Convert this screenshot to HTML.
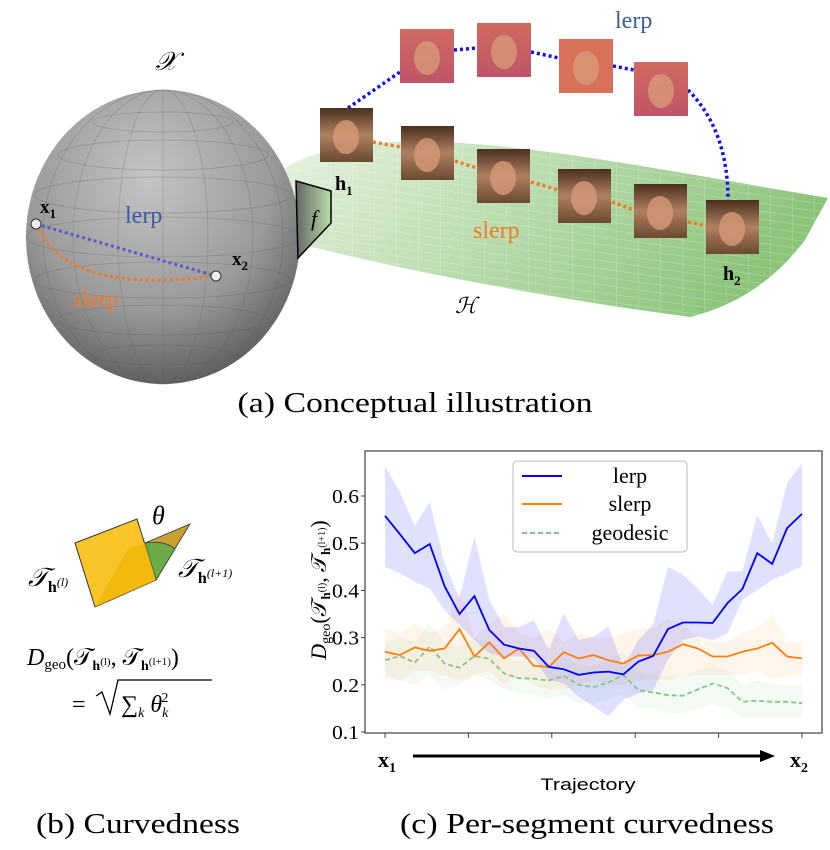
<!DOCTYPE html>
<html><head><meta charset="utf-8"><style>
html,body{margin:0;padding:0;background:#fff;width:830px;height:850px;overflow:hidden}
svg{display:block}
.serif{font-family:"Liberation Serif",serif}
</style></head><body>
<svg id="fig" width="830" height="850" viewBox="0 0 830 850" xmlns="http://www.w3.org/2000/svg">
<defs>
<radialGradient id="sph" cx="0.45" cy="0.3" r="0.75">
<stop offset="0" stop-color="#c4c4c4"/><stop offset="0.6" stop-color="#9a9a9a"/><stop offset="1" stop-color="#555"/>
</radialGradient>
<linearGradient id="surf" x1="0" y1="0" x2="1" y2="0.3">
<stop offset="0" stop-color="#e6f2e0"/><stop offset="1" stop-color="#8cc47a"/>
</linearGradient>
<linearGradient id="fgrad" x1="0" x2="1"><stop offset="0" stop-color="#666"/><stop offset="1" stop-color="#b8dca8"/></linearGradient>
<pattern id="grid" width="22" height="8" patternUnits="userSpaceOnUse" patternTransform="skewY(8)"><path d="M0 0H22M0 0V8" stroke="#fff" stroke-opacity="0.35" fill="none"/></pattern>
<linearGradient id="faceA" x1="0" y1="0" x2="0" y2="1"><stop offset="0" stop-color="#d06a60"/><stop offset="1" stop-color="#c05468"/></linearGradient>
<linearGradient id="faceB" x1="0" y1="0" x2="0" y2="1"><stop offset="0" stop-color="#4a3020"/><stop offset="0.5" stop-color="#b08060"/><stop offset="1" stop-color="#6a4a30"/></linearGradient>
</defs>

<g>
<path d="M285,168 C380,110 600,160 828,198 L805,240 Q760,300 690,317 C560,300 400,270 305,245 Z" fill="url(#surf)"/>
<path d="M285,168 C380,110 600,160 828,198 L805,240 Q760,300 690,317 C560,300 400,270 305,245 Z" fill="url(#grid)"/>
<ellipse cx="163" cy="237" rx="137" ry="147" fill="url(#sph)"/>
<g stroke="#555" stroke-opacity="0.3" fill="none" stroke-width="0.7">
<ellipse cx="163" cy="237" rx="137" ry="20"/><ellipse cx="163" cy="195" rx="128" ry="18"/><ellipse cx="163" cy="155" rx="105" ry="15"/><ellipse cx="163" cy="122" rx="70" ry="10"/>
<ellipse cx="163" cy="280" rx="128" ry="18"/><ellipse cx="163" cy="320" rx="105" ry="15"/><ellipse cx="163" cy="355" rx="70" ry="10"/>
<ellipse cx="163" cy="237" rx="45" ry="147"/><ellipse cx="163" cy="237" rx="90" ry="147"/><ellipse cx="163" cy="237" rx="120" ry="147"/><line x1="163" y1="90" x2="163" y2="384"/>
</g>
<path d="M296,181 L331,191 L331,223 L298,258 Z" fill="url(#fgrad)" stroke="#000" stroke-width="1.5"/>
<text x="311" y="226" class="serif" font-style="italic" font-size="22">f</text>
<line x1="36" y1="224" x2="216" y2="276" stroke="#5a5ad0" stroke-width="3" stroke-dasharray="3,3"/>
<path d="M38,228 Q70,295 216,276" fill="none" stroke="#f07a2a" stroke-width="3" stroke-dasharray="3,3"/>
<circle cx="36" cy="224" r="5" fill="#eee" stroke="#333"/><circle cx="216" cy="276" r="5" fill="#eee" stroke="#333"/>
<text x="40" y="213" class="serif" font-weight="bold" font-size="19">x<tspan font-size="13" dy="5">1</tspan></text>
<text x="232" y="265" class="serif" font-weight="bold" font-size="19">x<tspan font-size="13" dy="5">2</tspan></text>
<text x="125" y="223" class="serif" font-size="24" fill="#3c5aa8">lerp</text>
<text x="72" y="307" class="serif" font-size="24" fill="#f07a2a">slerp</text>
<text x="155" y="70" class="serif" font-style="italic" font-size="26">𝒳</text>
<text x="455" y="313" class="serif" font-style="italic" font-size="22">ℋ</text>
<path d="M348,108 L400,72 M454,50 L477,48 M531,52 L559,58 M613,66 L634,70 M688,90 Q728,130 728,200" fill="none" stroke="#1010f0" stroke-width="3.5" stroke-dasharray="3,3"/>
<path d="M373,142 L401,147 M455,161 L477,168 M531,182 L558,190 M612,202 L634,210 M688,222 L706,226" fill="none" stroke="#f07a2a" stroke-width="3.5" stroke-dasharray="3,3"/>
<g>
<rect x="400" y="29" width="54" height="54" fill="url(#faceA)"/><rect x="477" y="23" width="54" height="54" fill="url(#faceA)"/>
<rect x="559" y="39" width="54" height="54" fill="#d8705a"/><rect x="634" y="62" width="54" height="54" fill="url(#faceA)"/>
<rect x="320" y="108" width="53" height="54" fill="url(#faceB)"/><rect x="401" y="126" width="53" height="54" fill="url(#faceB)"/>
<rect x="477" y="149" width="53" height="54" fill="url(#faceB)"/><rect x="558" y="169" width="53" height="54" fill="url(#faceB)"/>
<rect x="634" y="184" width="53" height="54" fill="url(#faceB)"/><rect x="706" y="200" width="53" height="54" fill="url(#faceB)"/>
<g fill="#d89a78" opacity="0.8"><ellipse cx="427" cy="58" rx="13" ry="17"/><ellipse cx="504" cy="52" rx="13" ry="17"/><ellipse cx="586" cy="68" rx="13" ry="17"/><ellipse cx="661" cy="91" rx="13" ry="17"/>
<ellipse cx="346" cy="137" rx="13" ry="17"/><ellipse cx="427" cy="155" rx="13" ry="17"/><ellipse cx="503" cy="178" rx="13" ry="17"/><ellipse cx="584" cy="198" rx="13" ry="17"/><ellipse cx="660" cy="213" rx="13" ry="17"/><ellipse cx="732" cy="229" rx="13" ry="17"/></g>
</g>
<text x="615" y="28" class="serif" font-size="24" fill="#3c5aa8">lerp</text>
<text x="473" y="238" class="serif" font-size="24" fill="#f07a2a">slerp</text>
<text x="335" y="190" class="serif" font-weight="bold" font-size="20">h<tspan font-size="13" dy="5">1</tspan></text>
<text x="723" y="280" class="serif" font-weight="bold" font-size="20">h<tspan font-size="13" dy="5">2</tspan></text>
<text x="415" y="412" class="serif" font-size="28" text-anchor="middle" textLength="355" lengthAdjust="spacingAndGlyphs">(a) Conceptual illustration</text>
</g>

<g>
<path d="M145,543 L190,524 L156,580 Z" fill="#c8a030" stroke="#333" stroke-width="0.8"/>
<path d="M145,543 Q165,540 175,549 L156,580 Z" fill="#6aaa48" stroke="#333" stroke-width="0.8"/>
<path d="M75,543 L137,519 L156,580 L95,607 Z" fill="#f8c428" stroke="#333" stroke-width="1"/>
<path d="M95,607 L128,549 L145,543 L156,580 Z" fill="#f0b808" opacity="0.8"/>
<text x="152" y="524" class="serif" font-style="italic" font-size="26">θ</text>
<text x="28" y="586" class="serif" font-style="italic" font-size="26">𝒯<tspan font-style="normal" font-weight="bold" font-size="16" dy="6">h</tspan><tspan font-size="12" dy="-6">(l)</tspan></text>
<text x="178" y="577" class="serif" font-style="italic" font-size="26">𝒯<tspan font-style="normal" font-weight="bold" font-size="16" dy="6">h</tspan><tspan font-size="12" dy="-6">(l+1)</tspan></text>
<text x="27" y="665" class="serif" font-size="24"><tspan font-style="italic">D</tspan><tspan font-size="15" dy="4">geo</tspan><tspan dy="-4">(𝒯</tspan><tspan font-weight="bold" font-size="14" dy="5">h</tspan><tspan font-size="11" dy="-5">(l)</tspan><tspan>, 𝒯</tspan><tspan font-weight="bold" font-size="14" dy="5">h</tspan><tspan font-size="11" dy="-5">(l+1)</tspan><tspan>)</tspan></text>
<text x="72" y="712" class="serif" font-size="24">=</text>
<path d="M96,696 L102,692 L110,714 L118,680 L212,680" fill="none" stroke="#000" stroke-width="1.3"/>
<text x="121" y="712" class="serif" font-size="24">∑<tspan font-size="14" font-style="italic" dy="5">k</tspan><tspan font-style="italic" dy="-5"> θ</tspan><tspan font-size="14" font-style="italic" dy="5">k</tspan><tspan font-size="14" dx="-7" dy="-15">2</tspan></text>
<text x="138" y="833" class="serif" font-size="29" text-anchor="middle" textLength="204" lengthAdjust="spacingAndGlyphs">(b) Curvedness</text>
</g>

<g id="chart"></g>
<text x="587" y="833" class="serif" font-size="29" text-anchor="middle" textLength="374" lengthAdjust="spacingAndGlyphs">(c) Per-segment curvedness</text>
</svg>
<script>
const yTicks = [0.1, 0.2, 0.3, 0.4, 0.5, 0.6];
const xTickCount = 6;
const lerpMean = [0.558,0.519,0.479,0.498,0.409,0.350,0.388,0.316,0.285,0.277,0.272,0.238,0.233,0.221,0.226,0.228,0.222,0.249,0.261,0.318,0.332,0.332,0.331,0.373,0.403,0.479,0.456,0.532,0.562];
const lerpUpper = [0.663,0.609,0.536,0.588,0.457,0.383,0.514,0.380,0.323,0.322,0.337,0.274,0.351,0.295,0.302,0.323,0.238,0.295,0.327,0.450,0.433,0.404,0.369,0.440,0.440,0.560,0.500,0.627,0.669];
const lerpLower = [0.450,0.436,0.418,0.404,0.358,0.327,0.295,0.267,0.260,0.260,0.256,0.210,0.203,0.175,0.154,0.133,0.168,0.182,0.189,0.253,0.295,0.302,0.295,0.309,0.380,0.401,0.422,0.436,0.452];
const slerpMean = [0.270,0.263,0.279,0.272,0.277,0.318,0.260,0.290,0.256,0.277,0.240,0.238,0.269,0.256,0.263,0.252,0.245,0.262,0.263,0.270,0.286,0.277,0.260,0.260,0.270,0.277,0.289,0.260,0.256];
const slerpUpper = [0.32,0.31,0.33,0.31,0.32,0.40,0.30,0.33,0.35,0.31,0.30,0.32,0.29,0.31,0.30,0.30,0.31,0.32,0.32,0.34,0.33,0.30,0.29,0.29,0.31,0.32,0.35,0.29,0.29];
const slerpLower = [0.22,0.21,0.23,0.23,0.22,0.21,0.22,0.23,0.20,0.22,0.20,0.19,0.19,0.20,0.21,0.20,0.20,0.21,0.21,0.21,0.22,0.22,0.22,0.22,0.22,0.23,0.21,0.22,0.22];
const geoMean = [0.252,0.261,0.247,0.281,0.245,0.236,0.261,0.255,0.224,0.214,0.213,0.209,0.219,0.200,0.195,0.205,0.221,0.189,0.184,0.178,0.177,0.190,0.203,0.193,0.164,0.166,0.164,0.164,0.161];
const geoUpper = [0.29,0.30,0.29,0.33,0.29,0.28,0.30,0.29,0.26,0.25,0.25,0.24,0.26,0.24,0.24,0.25,0.27,0.23,0.22,0.22,0.22,0.23,0.24,0.23,0.20,0.21,0.20,0.20,0.20];
const geoLower = [0.21,0.21,0.20,0.22,0.19,0.20,0.22,0.21,0.19,0.18,0.18,0.17,0.18,0.16,0.16,0.17,0.18,0.15,0.15,0.14,0.14,0.15,0.16,0.15,0.13,0.13,0.13,0.13,0.13];

const NS = 'http://www.w3.org/2000/svg';
const g = document.getElementById('chart');
const L = 365, R = 822, T = 451, B = 733, X0 = 385, X1 = 802;
const n = lerpMean.length;
function xs(i){ return X0 + (X1 - X0) * i / (n - 1); }
function ys(v){ return 732 - (v - 0.1) * 472; }
function mk(tag, attrs){ const e = document.createElementNS(NS, tag); for (const k in attrs) e.setAttribute(k, attrs[k]); g.appendChild(e); return e; }
function band(up, lo, color, name){
  let d = 'M' + up.map((v,i)=>xs(i).toFixed(1)+','+ys(v).toFixed(1)).join(' L');
  for (let i = lo.length - 1; i >= 0; i--) d += ' L' + xs(i).toFixed(1) + ',' + ys(lo[i]).toFixed(1);
  const p = mk('path', {d: d + 'Z', fill: color, 'fill-opacity': name==='lerp-band'?0.15:0.1, stroke: 'none'});
  
  
}
function line(vals, color, name, dash){
  const p = mk('polyline', {points: vals.map((v,i)=>xs(i).toFixed(1)+','+ys(v).toFixed(1)).join(' '), fill: 'none', stroke: color, 'stroke-width': 1.8});
  if (dash) p.setAttribute('stroke-dasharray', dash);
  
  
}
const frame = mk('rect', {x: L, y: T, width: R - L, height: B - T, fill: 'none', stroke: '#666', 'stroke-width': 1.5});


band(slerpUpper, slerpLower, '#ff9a3a', 'slerp-band');
band(geoUpper, geoLower, '#8cc88c', 'geodesic-band');
band(lerpUpper, lerpLower, '#3030ff', 'lerp-band');
line(geoMean, '#88c488', 'geodesic-line', '5,3');
line(slerpMean, '#ff7f0e', 'slerp-line');
line(lerpMean, '#0000ff', 'lerp-line');
yTicks.forEach(v => {
  mk('line', {x1: L - 4, x2: L, y1: ys(v), y2: ys(v), stroke: '#444'});
  const t = mk('text', {x: L - 6, y: ys(v) + 7, 'text-anchor': 'end', 'font-family': 'Liberation Serif, serif', 'font-size': 20, textLength: 27, lengthAdjust: 'spacingAndGlyphs'});
  t.textContent = v.toFixed(1);
  
  
});
for (let k = 0; k < xTickCount; k++){
  const x = X0 + (X1 - X0) * k / (xTickCount - 1);
  mk('line', {x1: x, x2: x, y1: B, y2: B + 5, stroke: '#444'});
}
const lg = mk('rect', {x: 513, y: 461, width: 174, height: 91, rx: 4, fill: '#fff', 'fill-opacity': 0.85, stroke: '#bbb'});


[['lerp','#0000ff',null,476],['slerp','#ff7f0e',null,504],['geodesic','#88c488','5,3',533]].forEach(r => {
  const l = mk('line', {x1: 522, x2: 562, y1: r[3], y2: r[3], stroke: r[1], 'stroke-width': 2});
  if (r[2]) l.setAttribute('stroke-dasharray', r[2]);
  const t = mk('text', {x: 630, y: r[3] + 7, 'text-anchor': 'middle', 'font-family': 'Liberation Serif, serif', 'font-size': 22});
  t.textContent = r[0];
  
  
});
const yt = mk('text', {transform: 'translate(326,590) rotate(-90)', 'text-anchor': 'middle', 'font-family': 'Liberation Serif, serif', 'font-size': 22});
yt.innerHTML = '<tspan font-style="italic">D</tspan><tspan font-size="14" dy="4">geo</tspan><tspan dy="-4">(𝒯</tspan><tspan font-weight="bold" font-size="13" dy="4">h</tspan><tspan font-size="10" dy="-5">(l)</tspan><tspan dy="1">, 𝒯</tspan><tspan font-weight="bold" font-size="13" dy="4">h</tspan><tspan font-size="10" dy="-5">(l+1)</tspan><tspan dy="1">)</tspan>';


const ar = mk('line', {x1: 413, x2: 762, y1: 756, y2: 756, stroke: '#000', 'stroke-width': 3});


mk('path', {d: 'M775,756 L760,750 L760,762 Z', fill: '#000'});
const xl1 = mk('text', {x: 378, y: 767, 'font-family': 'Liberation Serif, serif', 'font-weight': 'bold', 'font-size': 22});
xl1.innerHTML = 'x<tspan font-size="14" dy="5">1</tspan>';


const xl2 = mk('text', {x: 790, y: 767, 'font-family': 'Liberation Serif, serif', 'font-weight': 'bold', 'font-size': 22});
xl2.innerHTML = 'x<tspan font-size="14" dy="5">2</tspan>';


const xt = mk('text', {x: 588, y: 790, 'text-anchor': 'middle', 'font-family': 'Liberation Sans, sans-serif', 'font-size': 17, textLength: 95, lengthAdjust: 'spacingAndGlyphs'});
xt.textContent = 'Trajectory';


</script>
</body></html>
